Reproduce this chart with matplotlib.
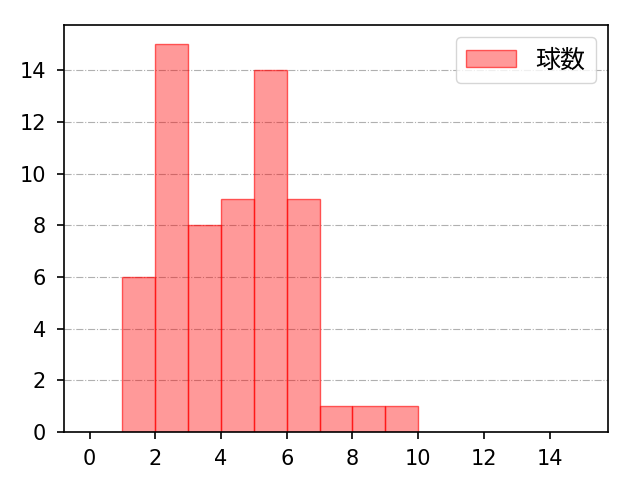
import matplotlib
matplotlib.use("Agg")
import matplotlib.pyplot as plt

plt.rcParams['font.family'] = ['DejaVu Sans', 'Noto Sans CJK JP']

bin_left = [1, 2, 3, 4, 5, 6, 7, 8, 9]
counts = [6, 15, 8, 9, 14, 9, 1, 1, 1]
label = "球数"
xticks = [0, 2, 4, 6, 8, 10, 12, 14]
yticks = [0, 2, 4, 6, 8, 10, 12, 14]

fig = plt.figure(figsize=(6.4, 4.8), dpi=100)
ax = fig.add_axes([0.1, 0.1, 0.85, 0.848])
ax.bar(bin_left, counts, width=1, align='edge', color=(1, 0, 0, 0.4),
       edgecolor=(1, 0, 0, 0.6), linewidth=1.0, label=label)
ax.set_xlim(-0.78, 15.78)
ax.set_ylim(0, 15.75)
ax.set_xticks(xticks)
ax.set_yticks(yticks)
ax.tick_params(labelsize=15, width=1.2, length=5)
ax.tick_params(axis='x', pad=7)
ax.tick_params(axis='y', pad=8)
for s in ax.spines.values():
    s.set_linewidth(1.2)
ax.yaxis.grid(True, linestyle='-.', color='#b0b0b0', linewidth=0.8)
ax.set_axisbelow(True)
ax.legend(loc='upper right', prop={'family': ['Noto Sans CJK JP'], 'size': 18})
fig.savefig("out.png", dpi=100)
